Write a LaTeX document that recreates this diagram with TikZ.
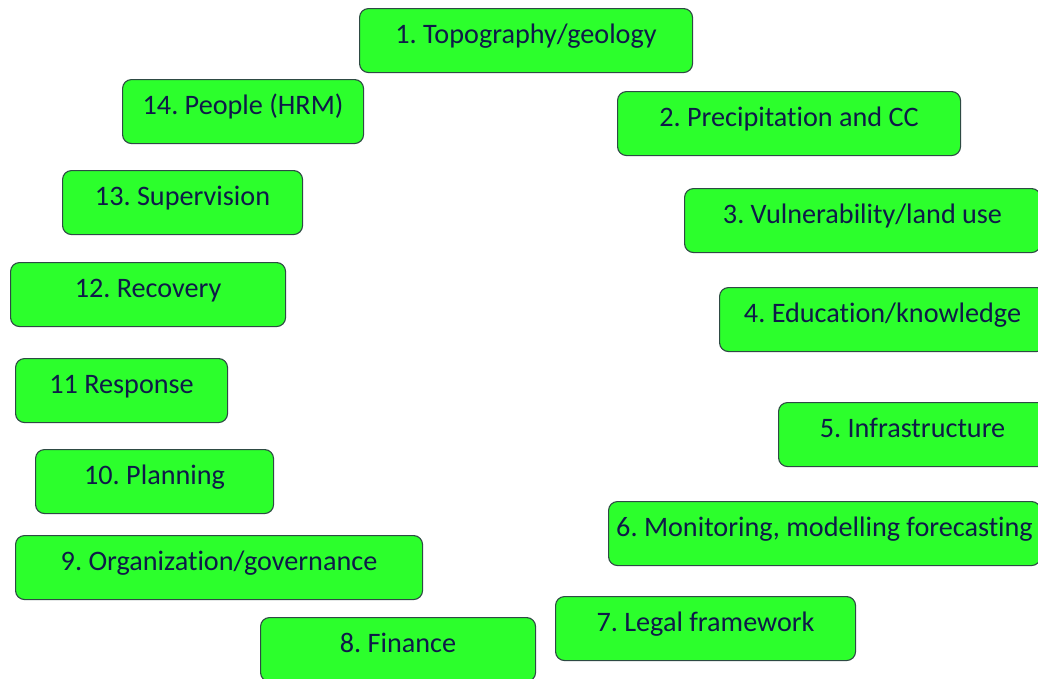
\documentclass[tikz,border=0pt]{standalone}
\usepackage{fontspec}
\setmainfont[Ligatures=NoCommon]{Carlito}
\definecolor{boxfill}{HTML}{2CFF2C}
\definecolor{boxline}{HTML}{2E4A44}
\definecolor{txtcol}{HTML}{0E1A48}
\frenchspacing
\begin{document}
\begin{tikzpicture}[x=1pt,y=-1pt,
  box/.style={draw=boxline, line width=1.1pt, fill=boxfill, rounded corners=9pt,
    anchor=north west, inner xsep=0pt, inner ysep=0pt, text height=35pt, text depth=29pt,
    text=txtcol, font=\fontsize{28.2}{30}\selectfont}]
\useasboundingbox (0,0) rectangle (1038,678);
\clip (0,0) rectangle (1038,678);
\fill[white] (0,0) rectangle (1038,678);
\node[box, minimum width=333pt] (n1) at (359,8) {1. Topography/geology};
\node[box, minimum width=343pt] (n2) at (617,91) {2. Precipitation and CC};
\node[box, minimum width=356pt] (n3) at (684,188) {3. Vulnerability/land use};
\node[box, minimum width=326pt] (n4) at (719,287) {4. Education/knowledge};
\node[box, minimum width=268pt] (n5) at (778,402) {5. Infrastructure};
\node[box, minimum width=432pt] (n6) at (608,501) {6. Monitoring, modelling forecasting};
\node[box, minimum width=300pt] (n7) at (555,596) {7. Legal framework};
\node[box, minimum width=275pt] (n8) at (260,617) {8. Finance};
\node[box, minimum width=407pt] (n9) at (15,535) {9. Organization/governance};
\node[box, minimum width=238pt] (n10) at (35,449) {10. Planning};
\node[box, minimum width=212pt] (n11) at (15,358) {11 Response};
\node[box, minimum width=275pt] (n12) at (10,262) {12. Recovery};
\node[box, minimum width=240pt] (n13) at (62,170) {13. Supervision};
\node[box, minimum width=241pt] (n14) at (122,79) {14. People (HRM)};
\end{tikzpicture}
\end{document}
